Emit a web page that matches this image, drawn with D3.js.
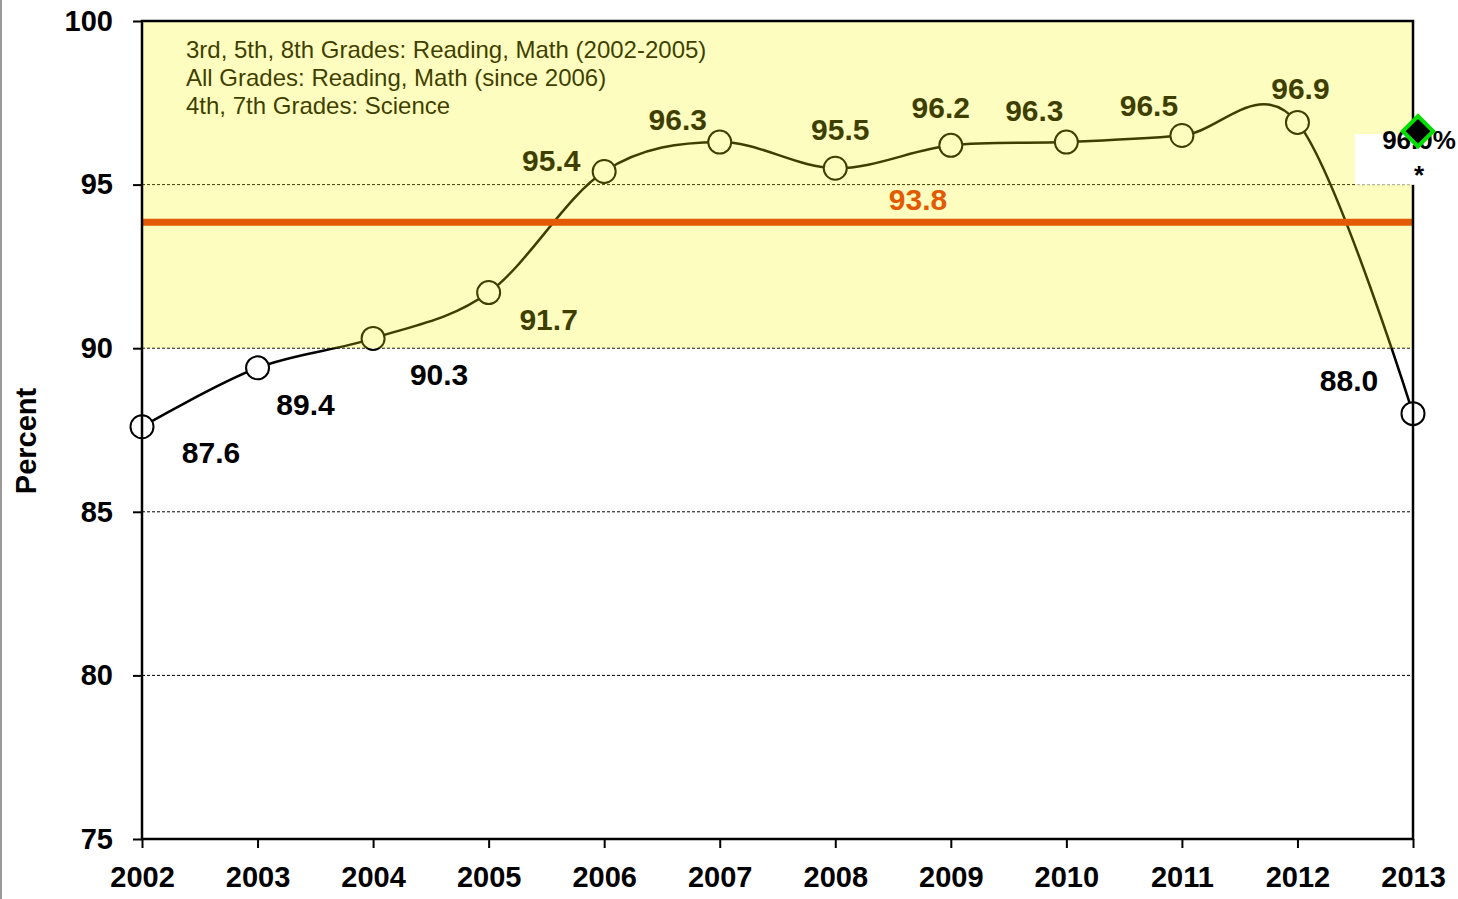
<!DOCTYPE html>
<html>
<head>
<meta charset="utf-8">
<script src="https://cdn.jsdelivr.net/npm/d3@7"></script>
<style>
  body { margin: 0; background: #fff; }
  text { font-family: "Liberation Sans", Arial, sans-serif; }
</style>
</head>
<body>
<div id="canvas"></div>
<script>
const years = [2002, 2003, 2004, 2005, 2006, 2007, 2008, 2009, 2010, 2011, 2012, 2013];
const percents = [87.6, 89.4, 90.3, 91.7, 95.4, 96.3, 95.5, 96.2, 96.3, 96.5, 96.9, 88.0];
const yTicks = [75, 80, 85, 90, 95, 100];
const gridValues = [80, 85, 90, 95];
const bandRange = [90, 100];
const targetValue = 93.8;
const goalYear = 2013;
const goalValue = 96.6;
const goalText = '96.0%';
const notes = [
    '3rd, 5th, 8th Grades: Reading, Math (2002-2005)',
    'All Grades: Reading, Math (since 2006)',
    '4th, 7th Grades: Science'
];

// label offsets from each point (layout only)
const labelOffsets = [
    [69, 26], [48, 37], [66, 36], [60, 27], [-53, -11], [-42, -23],
    [5, -39], [-10, -38], [-32, -32], [-33, -30], [3, -34], [-64, -33]
];

const canvas = document.getElementById('canvas');
const width = 1458, height = 899;
const plotLeft = 142, plotRight = 1413, plotTop = 21, plotBottom = 839;

const x = d3.scaleLinear().domain([2002, 2013]).range([plotLeft, plotRight]);
const y = d3.scaleLinear().domain([75, 100]).range([plotBottom, plotTop]);

const chart = d3.select(canvas)
    .append('svg')
    .attr('width', width)
    .attr('height', height)
    .style('display', 'block');

// page edge
chart.append('line')
    .attr('x1', 1).attr('x2', 1)
    .attr('y1', 0).attr('y2', height)
    .attr('stroke', '#999')
    .attr('stroke-width', 2);

chart.selectAll('.grid')
    .data(gridValues)
    .enter()
    .append('line')
    .attr('x1', plotLeft)
    .attr('x2', plotRight)
    .attr('y1', d => y(d))
    .attr('y2', d => y(d))
    .attr('stroke', '#000')
    .attr('stroke-width', 1)
    .attr('stroke-dasharray', '3,2');

const line = d3.line()
    .x((d, i) => x(years[i]))
    .y(d => y(d))
    .curve(d3.curveCatmullRom.alpha(0));

chart.append('path')
    .datum(percents)
    .attr('d', line)
    .attr('fill', 'none')
    .attr('stroke', '#000')
    .attr('stroke-width', 2.5);

chart.selectAll('.pt')
    .data(percents)
    .enter()
    .append('circle')
    .attr('cx', (d, i) => x(years[i]))
    .attr('cy', d => y(d))
    .attr('r', 11.5)
    .attr('fill', '#fff')
    .attr('stroke', '#000')
    .attr('stroke-width', 2);

chart.selectAll('.label')
    .data(percents)
    .enter()
    .append('text')
    .text(d => d.toFixed(1))
    .attr('x', (d, i) => x(years[i]) + labelOffsets[i][0])
    .attr('y', (d, i) => y(d) + labelOffsets[i][1])
    .attr('dy', '0.35em')
    .attr('text-anchor', 'middle')
    .attr('font-size', 30)
    .attr('font-weight', 'bold')
    .attr('fill', '#000');

chart.selectAll('.note')
    .data(notes)
    .enter()
    .append('text')
    .text(d => d)
    .attr('x', 186)
    .attr('y', (d, i) => 58 + i * 28)
    .attr('font-size', 24)
    .attr('fill', '#000');

// translucent yellow band over everything between 90 and 100
chart.append('rect')
    .attr('x', plotLeft)
    .attr('y', y(bandRange[1]))
    .attr('width', plotRight - plotLeft)
    .attr('height', y(bandRange[0]) - y(bandRange[1]))
    .attr('fill', 'rgb(247,247,0)')
    .attr('fill-opacity', 0.25);

chart.append('line')
    .attr('x1', plotLeft)
    .attr('x2', plotRight)
    .attr('y1', y(targetValue) - 1.5)
    .attr('y2', y(targetValue) - 1.5)
    .attr('stroke', '#e35a04')
    .attr('stroke-width', 7);

chart.append('text')
    .text(targetValue.toFixed(1))
    .attr('x', 918)
    .attr('y', y(targetValue) - 24)
    .attr('dy', '0.35em')
    .attr('text-anchor', 'middle')
    .attr('font-size', 30)
    .attr('font-weight', 'bold')
    .attr('fill', '#e35a04');

chart.append('rect')
    .attr('x', plotLeft)
    .attr('y', plotTop)
    .attr('width', plotRight - plotLeft)
    .attr('height', plotBottom - plotTop)
    .attr('fill', 'none')
    .attr('stroke', '#000')
    .attr('stroke-width', 2.5);

const yAxis = chart.append('g')
    .attr('transform', `translate(${plotLeft},0)`)
    .call(d3.axisLeft(y).tickValues(yTicks).tickSize(9).tickSizeOuter(0).tickPadding(20));
const xAxis = chart.append('g')
    .attr('transform', `translate(0,${plotBottom})`)
    .call(d3.axisBottom(x).tickValues(years).tickFormat(d3.format('d')).tickSize(9).tickSizeOuter(0).tickPadding(18));
[yAxis, xAxis].forEach(g => {
    g.select('.domain').remove();
    g.selectAll('line').attr('stroke', '#000').attr('stroke-width', 2);
    g.selectAll('text')
        .attr('fill', '#000')
        .attr('font-size', 29)
        .attr('font-weight', 'bold')
        .attr('font-family', '"Liberation Sans", Arial, sans-serif');
});

chart.append('text')
    .text('Percent')
    .attr('transform', 'translate(36,441) rotate(-90)')
    .attr('text-anchor', 'middle')
    .attr('font-size', 29)
    .attr('font-weight', 'bold');

// goal marker at right edge
chart.append('rect')
    .attr('x', 1355)
    .attr('y', 134)
    .attr('width', 110)
    .attr('height', y(95) - 134)
    .attr('fill', '#fff');

chart.append('line')
    .attr('x1', plotRight)
    .attr('x2', plotRight)
    .attr('y1', 134)
    .attr('y2', y(95))
    .attr('stroke', '#fff')
    .attr('stroke-width', 3);

chart.append('text')
    .text(goalText)
    .attr('x', 1419)
    .attr('y', 149)
    .attr('text-anchor', 'middle')
    .attr('font-size', 26)
    .attr('font-weight', 'bold');

chart.append('text')
    .text('*')
    .attr('x', 1419)
    .attr('y', 184)
    .attr('text-anchor', 'middle')
    .attr('font-size', 26)
    .attr('font-weight', 'bold');

chart.append('path')
    .attr('d', d3.symbol().type(d3.symbolSquare).size(460))
    .attr('transform', `translate(${x(goalYear) + 5},${y(goalValue) - 1}) rotate(45)`)
    .attr('fill', '#000')
    .attr('stroke', '#00e000')
    .attr('stroke-width', 4);
</script>
</body>
</html>
